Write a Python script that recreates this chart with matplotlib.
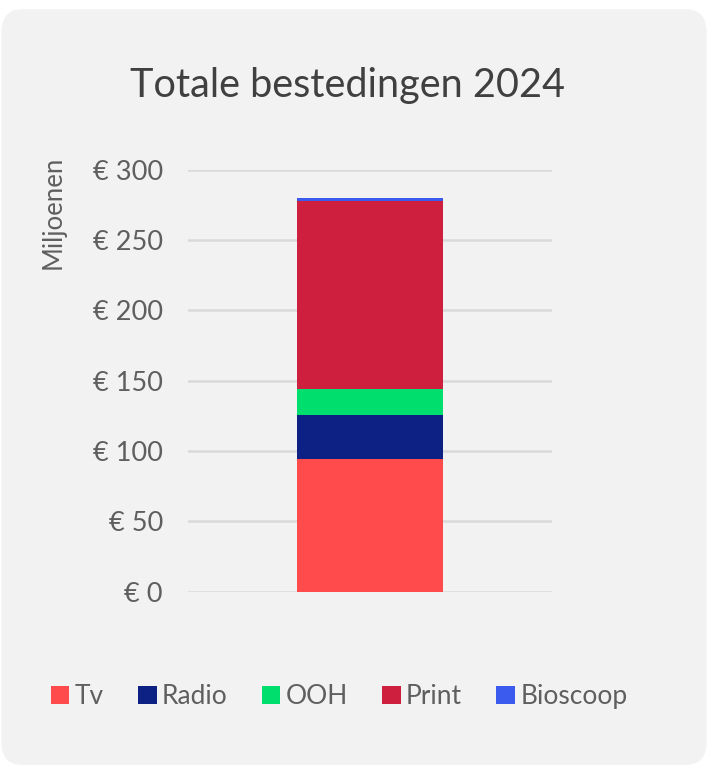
#!/usr/bin/env python3
"""Totale bestedingen 2024 - stacked bar per mediumtype."""

import matplotlib.pyplot as plt
from matplotlib.patches import FancyBboxPatch
from matplotlib.ticker import FuncFormatter

# Data (miljoenen euro)
categories = ['2024']
media = ['Tv', 'Radio', 'OOH', 'Print', 'Bioscoop']
values = [94.3, 31.3, 18.5, 133.7, 2.1]
colors = ['#FF4B4B', '#0D2185', '#00DE6E', '#CF1F3E', '#3A5BEE']

text_color = '#5F5F5F'
plt.rcParams['font.family'] = ['Lato', 'DejaVu Sans']

fig = plt.figure(figsize=(7.08, 7.65), dpi=100)
fig.patch.set_facecolor('white')

# Rounded card background
card = FancyBboxPatch((0.002, 0.0), 0.996, 0.988,
                      boxstyle='round,pad=0,rounding_size=0.03',
                      transform=fig.transFigure, facecolor='#F2F2F2',
                      edgecolor='none', zorder=-10)
fig.patches.append(card)

ax = fig.add_axes([0.2655, 0.2267, 0.514, 0.5514])
ax.set_facecolor('none')

bottom = 0
for name, val, col in zip(media, values, colors):
    ax.bar(categories, [val], bottom=bottom, width=0.4, color=col,
           label=name, zorder=3)
    bottom += val

ax.set_xlim(-0.5, 0.5)
ax.set_ylim(0, 300)
ax.set_yticks(range(0, 301, 50))
ax.yaxis.set_major_formatter(FuncFormatter(lambda v, p: f'€ {int(v)}'))
ax.set_xticks([])
ax.tick_params(axis='y', length=0, pad=18, labelsize=19.5, labelcolor=text_color)
ax.grid(axis='y', color='#D9D9D9', linewidth=1.8, zorder=0)
for s in ax.spines.values():
    s.set_visible(False)
ax.set_axisbelow(True)

ax.text(-0.37, 0.9, 'Miljoenen', transform=ax.transAxes, rotation=90,
        ha='center', va='center', fontsize=18.5, color=text_color)

fig.text(0.491, 0.888, 'Totale bestedingen 2024', ha='center', va='center',
         fontsize=28.5, color='#404040')

leg = fig.legend(loc='center', bbox_to_anchor=(0.479, 0.089), ncol=5,
                 frameon=False, fontsize=19, handlelength=0.7,
                 handleheight=0.7, handletextpad=0.2, columnspacing=1.3)
for t in leg.get_texts():
    t.set_color(text_color)

fig.savefig('out.png', dpi=100, facecolor=fig.get_facecolor())
